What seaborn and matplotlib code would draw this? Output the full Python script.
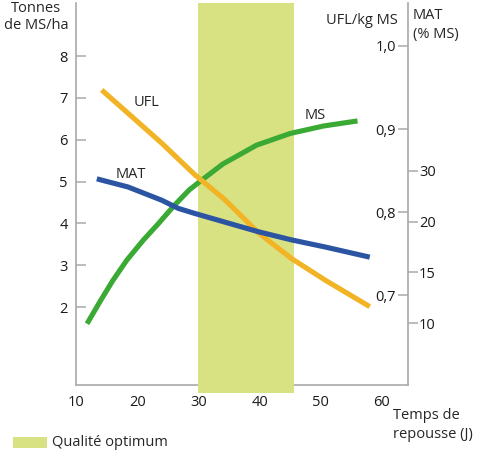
import matplotlib
matplotlib.use("Agg")
import matplotlib.pyplot as plt
import seaborn as sns
from matplotlib.patches import Rectangle

# data
ms_days = [11.8, 14, 16, 18.3, 21, 23.5, 26, 28.5, 30.5, 34, 39.5, 45, 50.5, 56]
ms_yield = [1.6, 2.15, 2.63, 3.12, 3.6, 4.0, 4.42, 4.8, 5.03, 5.42, 5.87, 6.15, 6.33, 6.45]

ufl_days = [14.2, 18.5, 24, 29.4, 34.3, 39.8, 45.2, 50.7, 58]
ufl_value = [0.947, 0.919, 0.883, 0.845, 0.815, 0.775, 0.744, 0.718, 0.686]

mat_days = [13.4, 18.5, 24, 26.7, 29.4, 34.3, 39.8, 45.2, 50.7, 58]
mat_value = [24.2, 23.4, 22.1, 21.3, 20.8, 19.95, 19.0, 18.2, 17.5, 16.5]

optimum = (29.9, 45.6)

x_ticks = [10, 20, 30, 40, 50, 60]
ms_ticks = [2, 3, 4, 5, 6, 7, 8]
ufl_ticks = [0.7, 0.8, 0.9, 1.0]
ufl_labels = ["0,7", "0,8", "0,9", "1,0"]
mat_ticks = [10, 15, 20, 25]
mat_labels = ["10", "15", "20", "30"]

sns.set_style("white")
plt.rcParams["font.family"] = ["Open Sans", "DejaVu Sans"]

C_MS = "#3BAA35"
C_UFL = "#F2B324"
C_MAT = "#2B55A2"
C_BAND = "#D9E283"
C_AX = "#A9A9A9"
FS = 10.5
LW = 3.7

fig = plt.figure(figsize=(4.8, 4.54), dpi=100)
ax = fig.add_axes([76 / 480, 69 / 454, 332 / 480, 382 / 454])
ax2 = ax.twinx()
ax3 = ax.twinx()
ax.set_facecolor("none")

ax.set_xlim(10, 64.25)
ax.set_ylim(0.135, 9.27)
ax2.set_ylim(0.5916, 1.0518)
ax3.set_ylim(3.93, 41.49)

# optimum band (goes slightly below the x axis)
ax.axvspan(optimum[0], optimum[1], ymin=-0.02, ymax=1, color=C_BAND, lw=0,
           zorder=3, clip_on=False)

line_kw = dict(lw=LW, zorder=5, solid_capstyle="butt", solid_joinstyle="round")
sns.lineplot(x=ms_days, y=ms_yield, ax=ax, color=C_MS, **line_kw)
sns.lineplot(x=ufl_days, y=ufl_value, ax=ax2, color=C_UFL, **line_kw)
sns.lineplot(x=mat_days, y=mat_value, ax=ax3, color=C_MAT, **line_kw)

for a in (ax, ax2, ax3):
    for s in a.spines.values():
        s.set_visible(False)
    a.set_xlabel("")
    a.set_ylabel("")

for s in ("left", "bottom", "right"):
    ax.spines[s].set_visible(True)
    ax.spines[s].set_color(C_AX)
    ax.spines[s].set_linewidth(1.2)

ax.set_xticks(x_ticks)
ax.set_yticks(ms_ticks)
ax.tick_params(axis="both", direction="in", length=7.5, width=1.1, color=C_AX,
               labelsize=FS, labelcolor="#1a1a1a")
ax.tick_params(axis="x", pad=7)
ax.tick_params(axis="y", pad=6)
ax.tick_params(axis="y", right=False)

# UFL: ticks on the right spine pointing inwards, labels inside
ax2.yaxis.tick_left()
ax2.spines["left"].set_position(("axes", 1.0))
ax2.set_yticks(ufl_ticks)
ax2.set_yticklabels(ufl_labels)
ax2.tick_params(axis="y", direction="out", length=7.5, width=1.1, color=C_AX,
                labelsize=FS, labelcolor="#1a1a1a", pad=1)

# MAT: ticks on the right spine pointing outwards
ax3.set_yticks(mat_ticks)
ax3.set_yticklabels(mat_labels)
ax3.tick_params(axis="y", direction="out", length=7, width=1.1, color=C_AX,
                labelsize=FS, labelcolor="#1a1a1a", pad=1)

# axis titles and curve labels
fig.text(36 / 480, 1 - 1 / 454, "Tonnes\nde MS/ha", ha="center", va="top",
         fontsize=FS, linespacing=1.2)
fig.text(398 / 480, 1 - 20 / 454, "UFL/kg MS", ha="right", va="center", fontsize=FS)
fig.text(413 / 480, 1 - 25 / 454, "MAT\n(% MS)", ha="left", va="center",
         fontsize=FS, linespacing=1.3)
fig.text(393 / 480, 1 - 425 / 454, "Temps de\nrepousse (J)", ha="left",
         va="center", fontsize=FS, linespacing=1.3)
fig.text(147 / 480, 1 - 103 / 454, "UFL", ha="center", va="center", fontsize=FS)
fig.text(131 / 480, 1 - 174 / 454, "MAT", ha="center", va="center", fontsize=FS)
fig.text(315 / 480, 1 - 115 / 454, "MS", ha="center", va="center", fontsize=FS)

# legend for the band
fig.patches.append(Rectangle((13 / 480, 1 - 448 / 454), 34 / 480, 11 / 454,
                             transform=fig.transFigure, color=C_BAND, lw=0))
fig.text(52 / 480, 1 - 443 / 454, "Qualité optimum", ha="left", va="center",
         fontsize=FS)

fig.savefig("out.png", dpi=100)
